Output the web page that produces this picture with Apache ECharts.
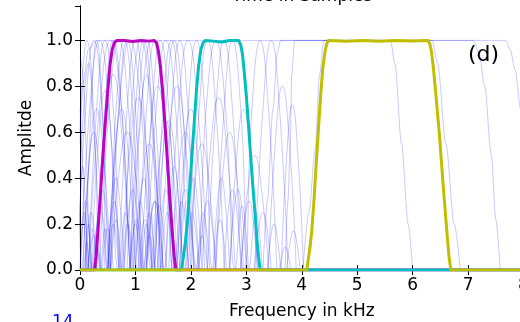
<!DOCTYPE html>
<html><head><meta charset="utf-8">
<script src="https://cdn.jsdelivr.net/npm/echarts@6/dist/echarts.min.js"></script>
<style>html,body{margin:0;padding:0;overflow:hidden;background:#fff;width:520px;height:322px}#w{width:520px;height:322px;overflow:hidden;position:relative}#c{width:524px;height:322px;position:absolute;left:0;top:0}</style>
</head><body><div id="w"><div id="c"></div></div>
<script>
const xTicks = [0,1,2,3,4,5,6,7,8];
const yTicks = [0,0.2,0.4,0.6,0.8,1.0];

const magentaBand = [[0,0],[0.26,0],[0.29,0.06],[0.32,0.16],[0.36,0.3],[0.4,0.45],[0.45,0.62],[0.5,0.78],[0.54,0.89],[0.58,0.96],[0.62,0.99],[0.66,1.0],[0.8,1.0],[0.95,0.995],[1.1,1.0],[1.25,0.997],[1.34,1.0],[1.38,0.99],[1.41,0.96],[1.45,0.89],[1.49,0.78],[1.54,0.61],[1.59,0.43],[1.63,0.28],[1.67,0.15],[1.7,0.06],[1.73,0],[8,0]];
const cyanBand = [[0,0],[1.83,0],[1.86,0.05],[1.9,0.12],[1.94,0.22],[1.98,0.36],[2.02,0.5],[2.06,0.64],[2.1,0.78],[2.14,0.89],[2.18,0.96],[2.22,0.99],[2.26,1.0],[2.4,0.997],[2.55,0.993],[2.7,1.0],[2.86,1.0],[2.9,0.98],[2.93,0.94],[2.96,0.87],[3.0,0.76],[3.04,0.63],[3.08,0.49],[3.12,0.36],[3.16,0.24],[3.19,0.14],[3.22,0.06],[3.25,0],[8,0]];
const yellowBand = [[0,0],[4.09,0],[4.12,0.05],[4.15,0.1],[4.18,0.17],[4.22,0.3],[4.26,0.46],[4.3,0.61],[4.34,0.76],[4.38,0.88],[4.42,0.95],[4.45,0.985],[4.48,1.0],[4.8,0.996],[5.1,1.0],[5.4,0.996],[5.7,1.0],[6.0,0.997],[6.28,1.0],[6.31,0.985],[6.34,0.95],[6.37,0.89],[6.41,0.79],[6.45,0.68],[6.48,0.6],[6.52,0.47],[6.56,0.34],[6.6,0.22],[6.63,0.13],[6.66,0.05],[6.69,0],[8,0]];

const wideFilters = [
  [[0,0.55],[0.06,0.82],[0.15,0.96],[0.3,1.0],[7.68,1.0],[7.76,0.96],[7.85,0.87],[7.95,0.7],[8.05,0.5]],
  [[4.02,0],[4.13,0.25],[4.24,0.52],[4.32,0.85],[4.4,1.0],[7.1,1.0],[7.2,0.94],[7.3,0.8],[7.42,0.5],[7.5,0.22],[7.58,0]],
  [[3.7,0],[3.75,0.3],[3.79,0.52],[3.82,0.85],[3.87,1.0],[6.35,1.0],[6.45,0.9],[6.6,0.55],[6.75,0.2],[6.86,0]],
  [[3.3,0],[3.38,0.3],[3.48,0.7],[3.56,0.95],[3.62,1.0],[5.6,1.0],[5.68,0.9],[5.8,0.55],[5.92,0.2],[6.0,0]]
];

const tallFilters = [
  [[0,0.6],[0.06,0.9],[0.12,1],[0.245,0.7],[0.37,0],[0.45,0.18],[0.53,0]],
  [[-0.05,0],[0.1,0.7],[0.25,1],[0.4,0.7],[0.55,0],[0.65,0.22],[0.75,0]],
  [[0,0],[0.175,0.7],[0.35,1],[0.525,0.7],[0.7,0],[0.82,0.25],[0.94,0]],
  [[0.15,0],[0.3,0.7],[0.45,1],[0.6,0.7],[0.75,0],[0.86,0.2],[0.97,0]],
  [[0.15,0],[0.35,0.7],[0.55,1],[0.75,0.7],[0.95,0],[1.08,0.3],[1.21,0]],
  [[0.35,0],[0.525,0.7],[0.7,1],[0.875,0.7],[1.05,0],[1.17,0.22],[1.29,0]],
  [[0.2,0],[0.38,0.25],[0.5,0],[0.65,0.7],[0.8,1],[0.95,0.7],[1.1,0],[1.2,0.2],[1.3,0]],
  [[0.5,0],[0.7,0.7],[0.9,1],[1.1,0.7],[1.3,0],[1.43,0.28],[1.56,0]],
  [[0.7,0],[0.85,0.7],[1.0,1],[1.15,0.7],[1.3,0]],
  [[0.5,0],[0.62,0.3],[0.75,0],[0.925,0.7],[1.1,1],[1.275,0.7],[1.45,0],[1.57,0.25],[1.69,0]],
  [[0.9,0],[1.05,0.7],[1.2,1],[1.35,0.7],[1.5,0]],
  [[0.9,0],[1.1,0.7],[1.3,1],[1.5,0.7],[1.7,0],[1.83,0.3],[1.96,0]],
  [[0.9,0],[1.02,0.22],[1.15,0],[1.3,0.7],[1.45,1],[1.6,0.7],[1.75,0]],
  [[1.2,0],[1.375,0.7],[1.55,1],[1.725,0.7],[1.9,0],[2.02,0.25],[2.14,0]],
  [[1.35,0],[1.5,0.7],[1.65,1],[1.8,0.7],[1.95,0]],
  [[1.2,0],[1.35,0.3],[1.5,0],[1.65,0.7],[1.8,1],[1.95,0.7],[2.1,0],[2.22,0.25],[2.34,0]],
  [[1.6,0],[1.775,0.7],[1.95,1],[2.125,0.7],[2.3,0]],
  [[1.8,0],[1.95,0.7],[2.1,1],[2.25,0.7],[2.4,0],[2.52,0.22],[2.64,0]],
  [[2.0,0],[2.15,0.7],[2.3,1],[2.45,0.7],[2.6,0]],
  [[1.8,0],[1.93,0.3],[2.1,0],[2.275,0.7],[2.45,1],[2.625,0.7],[2.8,0],[2.92,0.28],[3.04,0]],
  [[2.3,0],[2.45,0.7],[2.6,1],[2.75,0.7],[2.9,0]],
  [[2.45,0],[2.6,0.7],[2.75,1],[2.9,0.7],[3.05,0],[3.17,0.25],[3.29,0]],
  [[2.6,0],[2.75,0.35],[2.95,0],[3.1,0.7],[3.25,1],[3.4,0.7],[3.55,0]],
  [[3.15,0],[3.3,0.7],[3.45,1],[3.6,0.7],[3.75,0]],
  [[0.1,0],[0.2,0.7],[0.3,1],[0.4,0.7],[0.5,0],[0.6,0.2],[0.7,0]],
  [[0.3,0],[0.45,0.7],[0.6,1],[0.75,0.7],[0.9,0]],
  [[0.55,0],[0.7,0.7],[0.85,1],[1.0,0.7],[1.15,0],[1.25,0.25],[1.35,0]],
  [[0.85,0],[1.0,0.7],[1.15,1],[1.3,0.7],[1.45,0]],
  [[1.05,0],[1.2,0.7],[1.35,1],[1.5,0.7],[1.65,0]],
  [[1.4,0],[1.55,0.7],[1.7,1],[1.85,0.7],[2.0,0]]
];

const midFilters = [
  [[0.05,0],[0.175,0.5],[0.3,0.7],[0.425,0.5],[0.55,0]],
  [[0.3,0],[0.45,0.6],[0.6,0.85],[0.75,0.6],[0.9,0]],
  [[0.55,0],[0.7,0.42],[0.85,0.6],[1.0,0.42],[1.15,0]],
  [[0.75,0],[0.9,0.52],[1.05,0.75],[1.2,0.52],[1.35,0]],
  [[1.0,0],[1.125,0.38],[1.25,0.55],[1.375,0.38],[1.5,0]],
  [[1.1,0],[1.25,0.56],[1.4,0.8],[1.55,0.56],[1.7,0]],
  [[1.35,0],[1.475,0.45],[1.6,0.65],[1.725,0.45],[1.85,0]],
  [[1.45,0],[1.6,0.56],[1.75,0.8],[1.9,0.56],[2.05,0]],
  [[1.75,0],[1.875,0.49],[2.0,0.7],[2.125,0.49],[2.25,0]],
  [[1.95,0],[2.075,0.38],[2.2,0.55],[2.325,0.38],[2.45,0]],
  [[2.2,0],[2.35,0.52],[2.5,0.75],[2.65,0.52],[2.8,0]],
  [[2.45,0],[2.575,0.42],[2.7,0.6],[2.825,0.42],[2.95,0]],
  [[2.7,0],[2.825,0.49],[2.95,0.7],[3.075,0.49],[3.2,0]],
  [[2.9,0],[3.025,0.35],[3.15,0.5],[3.275,0.35],[3.4,0]],
  [[3.4,0],[3.525,0.56],[3.65,0.8],[3.775,0.56],[3.9,0]],
  [[3.63,0],[3.73,0.5],[3.83,0.72],[3.93,0.5],[4.03,0]],
  [[0,0.4],[0.08,0.75],[0.15,0.9],[0.25,0.6],[0.38,0]],
  [[0,0.93],[0.05,0.85],[0.1,0.6],[0.15,0.25],[0.2,0]],
  [[0,0.7],[0.04,0.5],[0.08,0.2],[0.12,0]],
  [[0.2,0],[0.33,0.55],[0.45,0.78],[0.57,0.55],[0.7,0]],
  [[0.5,0],[0.625,0.49],[0.75,0.7],[0.875,0.49],[1.0,0]],
  [[0.95,0],[1.075,0.6],[1.2,0.85],[1.325,0.6],[1.45,0]],
  [[1.3,0],[1.425,0.45],[1.55,0.65],[1.675,0.45],[1.8,0]],
  [[0.05,0],[0.15,0.42],[0.25,0.6],[0.35,0.42],[0.45,0]],
  [[1.65,0],[1.775,0.42],[1.9,0.6],[2.025,0.42],[2.15,0]]
];

const lowFilters = [
  [[0,0],[0.05,0.21],[0.1,0.3],[0.15,0.21],[0.2,0]],
  [[0.1,0],[0.15,0.18],[0.2,0.25],[0.25,0.18],[0.3,0]],
  [[-0.03,0],[0.01,0.32],[0.05,0.45],[0.09,0.32],[0.13,0]],
  [[0.13,0],[0.19,0.1],[0.25,0.15],[0.31,0.1],[0.37,0]],
  [[0.25,0],[0.325,0.25],[0.4,0.35],[0.475,0.25],[0.55,0]],
  [[0.5,0],[0.575,0.28],[0.65,0.4],[0.725,0.28],[0.8,0]],
  [[0.8,0],[0.875,0.25],[0.95,0.35],[1.025,0.25],[1.1,0]],
  [[1.0,0],[1.075,0.28],[1.15,0.4],[1.225,0.28],[1.3,0]],
  [[1.2,0],[1.275,0.21],[1.35,0.3],[1.425,0.21],[1.5,0]],
  [[1.4,0],[1.475,0.25],[1.55,0.35],[1.625,0.25],[1.7,0]],
  [[1.55,0],[1.625,0.32],[1.7,0.45],[1.775,0.32],[1.85,0]],
  [[1.75,0],[1.825,0.25],[1.9,0.35],[1.975,0.25],[2.05,0]],
  [[1.9,0],[1.975,0.28],[2.05,0.4],[2.125,0.28],[2.2,0]],
  [[2.15,0],[2.225,0.21],[2.3,0.3],[2.375,0.21],[2.45,0]],
  [[2.4,0],[2.475,0.28],[2.55,0.4],[2.625,0.28],[2.7,0]],
  [[2.7,0],[2.775,0.25],[2.85,0.35],[2.925,0.25],[3.0,0]],
  [[2.9,0],[2.975,0.21],[3.05,0.3],[3.125,0.21],[3.2,0]],
  [[3.15,0],[3.225,0.18],[3.3,0.25],[3.375,0.18],[3.45,0]],
  [[3.38,0],[3.44,0.14],[3.5,0.2],[3.56,0.14],[3.62,0]],
  [[3.73,0],[3.79,0.12],[3.85,0.17],[3.91,0.12],[3.97,0]],
  [[3.6,0],[3.65,0.07],[3.7,0.1],[3.75,0.07],[3.8,0]],
  [[0.09,0],[0.12,0.14],[0.15,0.2],[0.18,0.14],[0.21,0]],
  [[0.22,0],[0.26,0.08],[0.3,0.12],[0.34,0.08],[0.38,0]],
  [[0.01,0],[0.045,0.18],[0.08,0.25],[0.115,0.18],[0.15,0]],
  [[0.15,0],[0.185,0.13],[0.22,0.18],[0.255,0.13],[0.29,0]],
  [[0.07,0],[0.095,0.08],[0.12,0.12],[0.145,0.08],[0.17,0]],
  [[2.1,0],[2.15,0.1],[2.2,0.15],[2.25,0.1],[2.3,0]],
  [[0.9,0],[0.95,0.14],[1.0,0.2],[1.05,0.14],[1.1,0]],
  [[0.4,0],[0.45,0.13],[0.5,0.18],[0.55,0.13],[0.6,0]],
  [[1.15,0],[1.2,0.1],[1.25,0.15],[1.3,0.1],[1.35,0]]
];

const thinColor = 'rgba(0,0,255,0.24)';
const font = 'DejaVu Sans';

function thin(data, sm){
  return {type:'line', data:data, xAxisIndex:0, yAxisIndex:0, showSymbol:false, smooth:sm,
    lineStyle:{color:thinColor, width:0.9}, silent:true, animation:false, z:2};
}
function bold(data, color, z){
  return {type:'line', data:data, xAxisIndex:0, yAxisIndex:0, showSymbol:false, smooth:false,
    lineStyle:{color:color, width:3, join:'round'}, silent:true, animation:false, z:z};
}

const series = [];
wideFilters.forEach(d => series.push(Object.assign(thin(d, 0.3), {smoothMonotone:'x'})));
[tallFilters, midFilters, lowFilters].forEach(g => g.forEach(d => series.push(thin(d, 0.5))));
series.push(bold(magentaBand, '#bf00bf', 3));
series.push(bold(cyanBand, '#00bfbf', 4));
series.push(bold(yellowBand, '#bfbf00', 5));

const axisCommon = {
  min: 0, axisLine:{show:true, lineStyle:{color:'#000', width:1}},
  axisTick:{show:true, inside:true, length:5, lineStyle:{color:'#000', width:1}},
  splitLine:{show:false}
};

const chart = echarts.init(document.getElementById('c'), null, {renderer:'canvas'});
chart.setOption({
  animation:false,
  backgroundColor:'#fff',
  grid:{left:80, right:0.5, top:6, bottom:52, containLabel:false, outerBoundsMode:'none'},
  xAxis:[
    Object.assign({}, axisCommon, {type:'value', position:'bottom', max:xTicks[xTicks.length-1], interval:1,
      axisLabel:{show:true, margin:7, fontFamily:font, fontSize:17, color:'#000', formatter:v=>String(v)},
      name:'Frequency in kHz', nameLocation:'middle', nameGap:33, nameMoveOverlap:false,
      nameTextStyle:{fontFamily:font, fontSize:17, color:'#000'}}),
    Object.assign({}, axisCommon, {type:'value', position:'top', max:xTicks[xTicks.length-1], interval:1,
      axisLabel:{show:false}})
  ],
  yAxis:[
    Object.assign({}, axisCommon, {type:'value', position:'left', max:1.15, interval:0.2,
      axisLabel:{show:true, margin:7, fontFamily:font, fontSize:17, color:'#000', showMaxLabel:false,
        formatter:v=> yTicks.some(t=>Math.abs(t-v)<1e-6) ? v.toFixed(1) : ''},
      name:'Amplitde', nameLocation:'middle', nameGap:45, nameMoveOverlap:false,
      nameTextStyle:{fontFamily:font, fontSize:17, color:'#000'}}),
    Object.assign({}, axisCommon, {type:'value', position:'right', max:1.15, interval:0.2,
      axisLabel:{show:false}})
  ],
  series: series,
  graphic:[
    {type:'text', x:302, y:5, style:{text:'Time in Samples', fontFamily:font, fontSize:17, fill:'#000', align:'center', verticalAlign:'bottom'}},
    {type:'text', x:468, y:55, style:{text:'(d)', fontFamily:font, fontSize:22, fill:'#000', align:'left', verticalAlign:'middle'}},
    {type:'text', x:52, y:314, style:{text:'14', fontFamily:font, fontSize:17, fill:'#0000ff', align:'left', verticalAlign:'top'}}
  ]
});
</script>
</body></html>
